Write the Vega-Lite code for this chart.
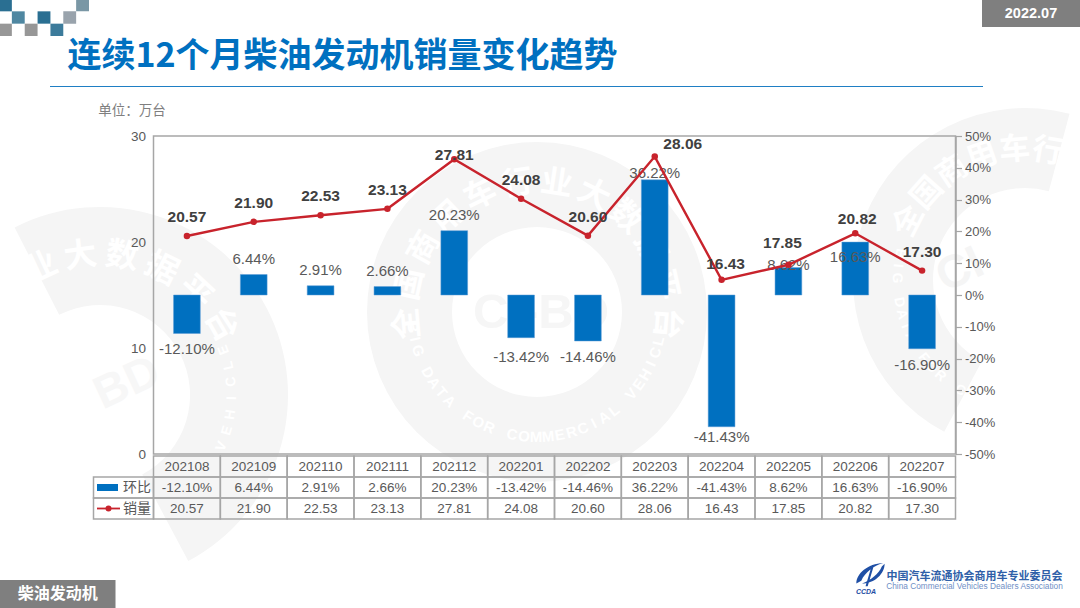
{
  "$schema": "https://vega.github.io/schema/vega-lite/v6.json",
  "description": "连续12个月柴油发动机销量变化趋势",
  "width": 802,
  "height": 318,
  "autosize": {"type": "none"},
  "padding": {"left": 153.5, "top": 136, "right": 124.5, "bottom": 154},
  "background": "white",
  "title": {
    "text": "连续12个月柴油发动机销量变化趋势",
    "anchor": "start",
    "frame": "group",
    "dx": -86,
    "offset": -75,
    "font": "Noto Sans CJK SC",
    "fontSize": 34,
    "fontWeight": "bold",
    "color": "#0070c0"
  },
  "config": {
    "font": "Liberation Sans",
    "view": {"stroke": null}
  },
  "datasets": {
    "monthly": [
      {"month": "202108", "change": -12.10, "sales": 20.57},
      {"month": "202109", "change": 6.44, "sales": 21.90},
      {"month": "202110", "change": 2.91, "sales": 22.53},
      {"month": "202111", "change": 2.66, "sales": 23.13},
      {"month": "202112", "change": 20.23, "sales": 27.81},
      {"month": "202201", "change": -13.42, "sales": 24.08},
      {"month": "202202", "change": -14.46, "sales": 20.60},
      {"month": "202203", "change": 36.22, "sales": 28.06},
      {"month": "202204", "change": -41.43, "sales": 16.43},
      {"month": "202205", "change": 8.62, "sales": 17.85},
      {"month": "202206", "change": 16.63, "sales": 20.82},
      {"month": "202207", "change": -16.90, "sales": 17.30}
    ],
    "cornerCells": [
      {"col": 0, "row": 0, "shade": "deep"},
      {"col": 6, "row": 0, "shade": "mist"},
      {"col": 1, "row": 1, "shade": "mid"},
      {"col": 3, "row": 1, "shade": "deep"},
      {"col": 5, "row": 1, "shade": "slate"},
      {"col": 0, "row": 2, "shade": "grey"},
      {"col": 2, "row": 2, "shade": "grey"},
      {"col": 4, "row": 2, "shade": "teal"}
    ]
  },
  "resolve": {
    "scale": {"x": "independent", "y": "independent", "color": "independent", "theta": "independent", "angle": "independent", "size": "independent"},
    "axis": {"y": "independent"}
  },
  "layer": [
    {
      "data": {"values": [{"ring": "center", "from": 0, "to": 360}]},
      "mark": {"type": "arc", "innerRadius": 85, "outerRadius": 170, "color": "#f5f5f5"},
      "encoding": {
        "x": {"field": "ring", "type": "ordinal", "axis": null, "scale": {"type": "point", "range": [383.5, 383.5]}},
        "y": {"field": "ring", "type": "ordinal", "axis": null, "scale": {"type": "point", "range": [176, 176]}},
        "theta": {"field": "from", "type": "quantitative", "stack": null, "scale": {"domain": [0, 360], "range": [0, 6.2832]}},
        "theta2": {"field": "to"}
      }
    },
    {
      "data": {"values": [{"ring": "left", "from": -27, "to": 152}]},
      "mark": {"type": "arc", "innerRadius": 90, "outerRadius": 188, "color": "#f5f5f5"},
      "encoding": {
        "x": {"field": "ring", "type": "ordinal", "axis": null, "scale": {"type": "point", "range": [-53.5, -53.5]}},
        "y": {"field": "ring", "type": "ordinal", "axis": null, "scale": {"type": "point", "range": [259, 259]}},
        "theta": {"field": "from", "type": "quantitative", "stack": null, "scale": {"domain": [0, 360], "range": [0, 6.2832]}},
        "theta2": {"field": "to"}
      }
    },
    {
      "data": {"values": [{"ring": "right", "from": 208, "to": 375}]},
      "mark": {"type": "arc", "innerRadius": 92, "outerRadius": 172, "color": "#f5f5f5"},
      "encoding": {
        "x": {"field": "ring", "type": "ordinal", "axis": null, "scale": {"type": "point", "range": [871.5, 871.5]}},
        "y": {"field": "ring", "type": "ordinal", "axis": null, "scale": {"type": "point", "range": [144, 144]}},
        "theta": {"field": "from", "type": "quantitative", "stack": null, "scale": {"domain": [0, 360], "range": [0, 6.2832]}},
        "theta2": {"field": "to"}
      }
    },
    {
      "data": {"values": [
        {"ring": "center", "pos": 0, "ch": "全"}, {"ring": "center", "pos": 1, "ch": "国"}, {"ring": "center", "pos": 2, "ch": "商"},
        {"ring": "center", "pos": 3, "ch": "用"}, {"ring": "center", "pos": 4, "ch": "车"}, {"ring": "center", "pos": 5, "ch": "行"},
        {"ring": "center", "pos": 6, "ch": "业"}, {"ring": "center", "pos": 7, "ch": "大"}, {"ring": "center", "pos": 8, "ch": "数"},
        {"ring": "center", "pos": 9, "ch": "据"}, {"ring": "center", "pos": 10, "ch": "平"}, {"ring": "center", "pos": 11, "ch": "台"}
      ]},
      "mark": {"type": "text", "font": "Noto Sans CJK SC", "fontWeight": "bold", "fontSize": 32, "color": "white", "baseline": "middle"},
      "encoding": {
        "x": {"field": "ring", "type": "ordinal", "axis": null, "scale": {"type": "point", "range": [383.5, 383.5]}},
        "y": {"field": "ring", "type": "ordinal", "axis": null, "scale": {"type": "point", "range": [176, 176]}},
        "radius": {"value": 130},
        "theta": {"field": "pos", "type": "quantitative", "scale": {"domain": [0, 11], "range": [-1.658, 1.658]}},
        "angle": {"field": "pos", "type": "quantitative", "scale": {"domain": [0, 11], "range": [-95, 95]}},
        "text": {"field": "ch"}
      }
    },
    {
      "data": {"values": [
        {"ring": "center", "pos": 0, "ch": "B"}, {"ring": "center", "pos": 1, "ch": "I"}, {"ring": "center", "pos": 2, "ch": "G"},
        {"ring": "center", "pos": 4, "ch": "D"}, {"ring": "center", "pos": 5, "ch": "A"}, {"ring": "center", "pos": 6, "ch": "T"}, {"ring": "center", "pos": 7, "ch": "A"},
        {"ring": "center", "pos": 9, "ch": "F"}, {"ring": "center", "pos": 10, "ch": "O"}, {"ring": "center", "pos": 11, "ch": "R"},
        {"ring": "center", "pos": 13, "ch": "C"}, {"ring": "center", "pos": 14, "ch": "O"}, {"ring": "center", "pos": 15, "ch": "M"}, {"ring": "center", "pos": 16, "ch": "M"}, {"ring": "center", "pos": 17, "ch": "E"},
        {"ring": "center", "pos": 18, "ch": "R"}, {"ring": "center", "pos": 19, "ch": "C"}, {"ring": "center", "pos": 20, "ch": "I"}, {"ring": "center", "pos": 21, "ch": "A"}, {"ring": "center", "pos": 22, "ch": "L"},
        {"ring": "center", "pos": 24, "ch": "V"}, {"ring": "center", "pos": 25, "ch": "E"}, {"ring": "center", "pos": 26, "ch": "H"}, {"ring": "center", "pos": 27, "ch": "I"}, {"ring": "center", "pos": 28, "ch": "C"}, {"ring": "center", "pos": 29, "ch": "L"}, {"ring": "center", "pos": 30, "ch": "E"}
      ]},
      "mark": {"type": "text", "fontWeight": "bold", "fontSize": 15, "color": "white", "baseline": "middle"},
      "encoding": {
        "x": {"field": "ring", "type": "ordinal", "axis": null, "scale": {"type": "point", "range": [383.5, 383.5]}},
        "y": {"field": "ring", "type": "ordinal", "axis": null, "scale": {"type": "point", "range": [176, 176]}},
        "radius": {"value": 125},
        "theta": {"field": "pos", "type": "quantitative", "scale": {"domain": [0, 30], "range": [4.59, 1.71]}},
        "angle": {"field": "pos", "type": "quantitative", "scale": {"domain": [0, 30], "range": [83, -82]}},
        "text": {"field": "ch"}
      }
    },
    {
      "data": {"values": [
        {"ring": "left", "pos": 0, "ch": "业"}, {"ring": "left", "pos": 1, "ch": "大"}, {"ring": "left", "pos": 2, "ch": "数"},
        {"ring": "left", "pos": 3, "ch": "据"}, {"ring": "left", "pos": 4, "ch": "平"}, {"ring": "left", "pos": 5, "ch": "台"}
      ]},
      "mark": {"type": "text", "font": "Noto Sans CJK SC", "fontWeight": "bold", "fontSize": 33, "color": "white", "baseline": "middle"},
      "encoding": {
        "x": {"field": "ring", "type": "ordinal", "axis": null, "scale": {"type": "point", "range": [-53.5, -53.5]}},
        "y": {"field": "ring", "type": "ordinal", "axis": null, "scale": {"type": "point", "range": [259, 259]}},
        "radius": {"value": 140},
        "theta": {"field": "pos", "type": "quantitative", "scale": {"domain": [0, 5], "range": [-0.436, 1.047]}},
        "angle": {"field": "pos", "type": "quantitative", "scale": {"domain": [0, 5], "range": [-25, 60]}},
        "text": {"field": "ch"}
      }
    },
    {
      "data": {"values": [
        {"ring": "left", "pos": 0, "ch": "V"}, {"ring": "left", "pos": 1, "ch": "E"}, {"ring": "left", "pos": 2, "ch": "H"}, {"ring": "left", "pos": 3, "ch": "I"},
        {"ring": "left", "pos": 4, "ch": "C"}, {"ring": "left", "pos": 5, "ch": "L"}, {"ring": "left", "pos": 6, "ch": "E"}
      ]},
      "mark": {"type": "text", "fontWeight": "bold", "fontSize": 14, "color": "white", "baseline": "middle"},
      "encoding": {
        "x": {"field": "ring", "type": "ordinal", "axis": null, "scale": {"type": "point", "range": [-53.5, -53.5]}},
        "y": {"field": "ring", "type": "ordinal", "axis": null, "scale": {"type": "point", "range": [259, 259]}},
        "radius": {"value": 132},
        "theta": {"field": "pos", "type": "quantitative", "scale": {"domain": [0, 6], "range": [1.97, 1.22]}},
        "angle": {"field": "pos", "type": "quantitative", "scale": {"domain": [0, 6], "range": [-67, -110]}},
        "text": {"field": "ch"}
      }
    },
    {
      "data": {"values": [
        {"ring": "right", "pos": 0, "ch": "全"}, {"ring": "right", "pos": 1, "ch": "国"}, {"ring": "right", "pos": 2, "ch": "商"},
        {"ring": "right", "pos": 3, "ch": "用"}, {"ring": "right", "pos": 4, "ch": "车"}, {"ring": "right", "pos": 5, "ch": "行"}
      ]},
      "mark": {"type": "text", "font": "Noto Sans CJK SC", "fontWeight": "bold", "fontSize": 31, "color": "white", "baseline": "middle"},
      "encoding": {
        "x": {"field": "ring", "type": "ordinal", "axis": null, "scale": {"type": "point", "range": [871.5, 871.5]}},
        "y": {"field": "ring", "type": "ordinal", "axis": null, "scale": {"type": "point", "range": [144, 144]}},
        "radius": {"value": 130},
        "theta": {"field": "pos", "type": "quantitative", "scale": {"domain": [0, 5], "range": [-1.10, 0.175]}},
        "angle": {"field": "pos", "type": "quantitative", "scale": {"domain": [0, 5], "range": [-63, 10]}},
        "text": {"field": "ch"}
      }
    },
    {
      "data": {"values": [
        {"ring": "right", "pos": 0, "ch": "B"}, {"ring": "right", "pos": 1, "ch": "I"}, {"ring": "right", "pos": 2, "ch": "G"},
        {"ring": "right", "pos": 4, "ch": "D"}, {"ring": "right", "pos": 5, "ch": "A"}, {"ring": "right", "pos": 6, "ch": "T"}, {"ring": "right", "pos": 7, "ch": "A"},
        {"ring": "right", "pos": 9, "ch": "F"}, {"ring": "right", "pos": 10, "ch": "O"}, {"ring": "right", "pos": 11, "ch": "R"},
        {"ring": "right", "pos": 13, "ch": "C"}
      ]},
      "mark": {"type": "text", "fontWeight": "bold", "fontSize": 14, "color": "white", "baseline": "middle"},
      "encoding": {
        "x": {"field": "ring", "type": "ordinal", "axis": null, "scale": {"type": "point", "range": [871.5, 871.5]}},
        "y": {"field": "ring", "type": "ordinal", "axis": null, "scale": {"type": "point", "range": [144, 144]}},
        "radius": {"value": 128},
        "theta": {"field": "pos", "type": "quantitative", "scale": {"domain": [0, 13], "range": [4.92, 3.674]}},
        "angle": {"field": "pos", "type": "quantitative", "scale": {"domain": [0, 13], "range": [102, 30.5]}},
        "text": {"field": "ch"}
      }
    },
    {
      "data": {"values": [{"word": "CI-BD"}]},
      "mark": {"type": "text", "fontWeight": "bold", "fontSize": 49, "color": "#f6f6f6", "baseline": "middle"},
      "encoding": {
        "x": {"field": "word", "type": "ordinal", "axis": null, "scale": {"type": "point", "range": [387.5, 387.5]}},
        "y": {"field": "word", "type": "ordinal", "axis": null, "scale": {"type": "point", "range": [177, 177]}},
        "text": {"field": "word"}
      }
    },
    {
      "data": {"values": [{"word": "BD"}]},
      "mark": {"type": "text", "fontWeight": "bold", "fontSize": 46, "color": "#f7f7f7", "baseline": "middle", "angle": 335},
      "encoding": {
        "x": {"field": "word", "type": "ordinal", "axis": null, "scale": {"type": "point", "range": [-26.5, -26.5]}},
        "y": {"field": "word", "type": "ordinal", "axis": null, "scale": {"type": "point", "range": [247, 247]}},
        "text": {"field": "word"}
      }
    },
    {
      "data": {"values": [{"word": "CI"}]},
      "mark": {"type": "text", "fontWeight": "bold", "fontSize": 46, "color": "#f5f5f5", "baseline": "middle", "angle": 335},
      "encoding": {
        "x": {"field": "word", "type": "ordinal", "axis": null, "scale": {"type": "point", "range": [806.5, 806.5]}},
        "y": {"field": "word", "type": "ordinal", "axis": null, "scale": {"type": "point", "range": [134, 134]}},
        "text": {"field": "word"}
      }
    },
    {
      "data": {"name": "cornerCells"},
      "mark": {"type": "rect"},
      "encoding": {
        "x": {"field": "col", "type": "ordinal", "axis": null, "scale": {"type": "band", "domain": [0, 1, 2, 3, 4, 5, 6], "range": [-154.5, -64.5], "padding": 0}},
        "y": {"field": "row", "type": "ordinal", "axis": null, "scale": {"type": "band", "domain": [0, 1, 2], "range": [-137, -100], "padding": 0}},
        "color": {
          "field": "shade",
          "type": "nominal",
          "legend": null,
          "scale": {"domain": ["deep", "mid", "teal", "slate", "mist", "grey"], "range": ["#2a6f92", "#4f87a1", "#3c7b9b", "#99a3ac", "#7a97a5", "#979797"]}
        }
      }
    },
    {
      "data": {"values": [{"line": "header", "from": 0, "to": 1}]},
      "mark": {"type": "rule", "color": "#1f7fc4", "strokeWidth": 1},
      "encoding": {
        "x": {"field": "from", "type": "quantitative", "axis": null, "scale": {"domain": [0, 1], "range": [-103.5, 829.5]}},
        "x2": {"field": "to"},
        "y": {"field": "line", "type": "ordinal", "axis": null, "scale": {"type": "point", "range": [-49.5, -49.5]}}
      }
    },
    {
      "data": {"values": [{"tag": "2022.07"}]},
      "encoding": {
        "x": {"field": "tag", "type": "ordinal", "axis": null, "scale": {"type": "band", "range": [828.5, 926.5], "padding": 0}},
        "y": {"field": "tag", "type": "ordinal", "axis": null, "scale": {"type": "band", "range": [-136, -109], "padding": 0}}
      },
      "layer": [
        {"mark": {"type": "rect", "color": "#7f7f7f"}},
        {
          "mark": {"type": "text", "color": "white", "fontWeight": "bold", "fontSize": 14.5, "baseline": "middle"},
          "encoding": {"text": {"field": "tag"}}
        }
      ]
    },
    {
      "data": {"values": [{"tag": "柴油发动机"}]},
      "encoding": {
        "x": {"field": "tag", "type": "ordinal", "axis": null, "scale": {"type": "band", "range": [-153.5, -38], "padding": 0}},
        "y": {"field": "tag", "type": "ordinal", "axis": null, "scale": {"type": "band", "range": [444, 472], "padding": 0}}
      },
      "layer": [
        {"mark": {"type": "rect", "color": "#7f7f7f"}},
        {
          "mark": {"type": "text", "color": "white", "font": "Noto Sans CJK SC", "fontWeight": "bold", "fontSize": 16, "baseline": "middle"},
          "encoding": {"text": {"field": "tag"}}
        }
      ]
    },
    {
      "data": {"values": [{"org": "logo", "line": "cn", "name": "中国汽车流通协会商用车专业委员会"}]},
      "mark": {"type": "text", "font": "Noto Sans CJK SC", "fontWeight": "bold", "fontSize": 11, "color": "#2f5fa8", "baseline": "middle"},
      "encoding": {
        "x": {"field": "org", "type": "ordinal", "axis": null, "scale": {"type": "band", "range": [732.5, 909.5], "padding": 0}},
        "y": {"field": "line", "type": "ordinal", "axis": null, "scale": {"type": "band", "range": [435, 447], "padding": 0}},
        "text": {"field": "name"}
      }
    },
    {
      "data": {"values": [{"org": "logo", "line": "en", "name": "China Commercial Vehicles Dealers Association"}]},
      "mark": {"type": "text", "fontSize": 8.3, "color": "#6f8fc6", "baseline": "middle"},
      "encoding": {
        "x": {"field": "org", "type": "ordinal", "axis": null, "scale": {"type": "band", "range": [732.5, 909.5], "padding": 0}},
        "y": {"field": "line", "type": "ordinal", "axis": null, "scale": {"type": "band", "range": [446, 456], "padding": 0}},
        "text": {"field": "name"}
      }
    },
    {
      "data": {"values": [{"org": "logo"}]},
      "mark": {
        "type": "point",
        "filled": true,
        "color": "#1f4fa5",
        "opacity": 1,
        "size": 800,
        "shape": "M-1,0.6C-1,-0.1,-0.2,-0.8,0.9,-0.85C0.3,-0.7,-0.4,-0.2,-0.65,0.4ZM1,-0.8C1,-0.1,0.3,0.6,-0.6,0.6C0,0.4,0.6,-0.1,0.8,-0.6ZM0.1,-0.7L0.25,-0.7L-0.2,0.8L-0.35,0.8Z"
      },
      "encoding": {
        "x": {"field": "org", "type": "ordinal", "axis": null, "scale": {"type": "point", "range": [717, 717]}},
        "y": {"field": "org", "type": "ordinal", "axis": null, "scale": {"type": "point", "range": [439, 439]}}
      }
    },
    {
      "data": {"values": [{"org": "CCDA"}]},
      "mark": {"type": "text", "fontSize": 7, "fontWeight": "bold", "fontStyle": "italic", "color": "#1f4fa5", "baseline": "middle"},
      "encoding": {
        "x": {"field": "org", "type": "ordinal", "axis": null, "scale": {"type": "point", "range": [712.5, 712.5]}},
        "y": {"field": "org", "type": "ordinal", "axis": null, "scale": {"type": "point", "range": [456, 456]}},
        "text": {"field": "org"}
      }
    },
    {
      "data": {"values": [{"frame": "plot"}]},
      "mark": {"type": "rect", "filled": false, "stroke": "#a6a6a6", "strokeWidth": 1.5},
      "encoding": {
        "x": {"field": "frame", "type": "ordinal", "axis": null, "scale": {"type": "band", "range": [0, 802], "padding": 0}},
        "y": {"field": "frame", "type": "ordinal", "axis": null, "scale": {"type": "band", "range": [0, 318], "padding": 0}}
      }
    },
    {
      "data": {"name": "monthly"},
      "transform": [{"calculate": "replace(format(datum.change, '.2f'), '−', '-') + '%'", "as": "label"}],
      "encoding": {
        "x": {"field": "month", "type": "ordinal", "axis": null, "scale": {"type": "band", "range": [0, 802], "paddingInner": 0.6, "paddingOuter": 0.3}},
        "y": {
          "field": "change",
          "type": "quantitative",
          "title": null,
          "scale": {"domain": [-50, 50]},
          "axis": {
            "orient": "right",
            "zindex": 1,
            "values": [-50, -40, -30, -20, -10, 0, 10, 20, 30, 40, 50],
            "labelExpr": "datum.value + '%'",
            "labelOverlap": false,
            "labelFlush": false,
            "grid": false,
            "domainColor": "#a6a6a6",
            "domainWidth": 1.5,
            "tickColor": "#a6a6a6",
            "tickWidth": 1.2,
            "tickSize": 6,
            "labelPadding": 3,
            "labelColor": "#595959",
            "labelFontSize": 13,
            "labelFont": "Liberation Sans"
          }
        }
      },
      "layer": [
        {"mark": {"type": "bar", "color": "#0070c0", "stroke": "#5b9bd5", "strokeWidth": 0.5}},
        {
          "transform": [{"filter": "indexof(['202109','202110','202111','202112'], datum.month) >= 0"}],
          "mark": {"type": "text", "fontSize": 15, "color": "#595959", "baseline": "middle", "dy": -16},
          "encoding": {"text": {"field": "label"}}
        },
        {
          "transform": [{"filter": "indexof(['202108','202202','202207'], datum.month) >= 0"}],
          "mark": {"type": "text", "fontSize": 15, "color": "#595959", "baseline": "middle", "dy": 16},
          "encoding": {"text": {"field": "label"}}
        },
        {
          "transform": [{"filter": "datum.month == '202201'"}],
          "mark": {"type": "text", "fontSize": 15, "color": "#595959", "baseline": "middle", "dy": 19},
          "encoding": {"text": {"field": "label"}}
        },
        {
          "transform": [{"filter": "datum.month == '202204'"}],
          "mark": {"type": "text", "fontSize": 15, "color": "#595959", "baseline": "middle", "dy": 10},
          "encoding": {"text": {"field": "label"}}
        },
        {
          "transform": [{"filter": "datum.month == '202203'"}],
          "mark": {"type": "text", "fontSize": 15, "color": "#595959", "baseline": "middle", "dy": -7},
          "encoding": {"text": {"field": "label"}}
        },
        {
          "transform": [{"filter": "datum.month == '202205'"}],
          "mark": {"type": "text", "fontSize": 15, "color": "#595959", "baseline": "middle", "dy": -3},
          "encoding": {"text": {"field": "label"}}
        },
        {
          "transform": [{"filter": "datum.month == '202206'"}],
          "mark": {"type": "text", "fontSize": 15, "color": "#595959", "baseline": "middle", "dy": 15},
          "encoding": {"text": {"field": "label"}}
        }
      ]
    },
    {
      "data": {"name": "monthly"},
      "encoding": {
        "x": {"field": "month", "type": "ordinal", "axis": null, "scale": {"type": "band", "range": [0, 802], "padding": 0}},
        "y": {
          "field": "sales",
          "type": "quantitative",
          "title": "单位：万台",
          "scale": {"domain": [0, 30]},
          "axis": {
            "orient": "left",
            "zindex": 1,
            "values": [0, 10, 20, 30],
            "grid": false,
            "ticks": false,
            "domain": false,
            "labelPadding": 8,
            "labelColor": "#595959",
            "labelFontSize": 13.5,
            "labelFont": "Liberation Sans",
            "titleAngle": 0,
            "titleAlign": "center",
            "titleBaseline": "middle",
            "titleX": -22,
            "titleY": -26,
            "titleFont": "Noto Sans CJK SC",
            "titleFontSize": 13.5,
            "titleFontWeight": "normal",
            "titleColor": "#7f7f7f"
          }
        }
      },
      "layer": [
        {"mark": {"type": "line", "color": "#c8232c", "strokeWidth": 2.4}},
        {"mark": {"type": "point", "filled": true, "color": "#c8232c", "opacity": 1, "size": 42}},
        {
          "transform": [{"filter": "indexof(['202112','202203','202204','202205','202206'], datum.month) < 0"}],
          "mark": {"type": "text", "fontSize": 15.5, "fontWeight": "bold", "color": "#404040", "baseline": "middle", "dy": -19},
          "encoding": {"text": {"field": "sales", "format": ".2f"}}
        },
        {
          "transform": [{"filter": "datum.month == '202112'"}],
          "mark": {"type": "text", "fontSize": 15.5, "fontWeight": "bold", "color": "#404040", "baseline": "middle", "dy": -4},
          "encoding": {"text": {"field": "sales", "format": ".2f"}}
        },
        {
          "transform": [{"filter": "datum.month == '202203'"}],
          "mark": {"type": "text", "fontSize": 15.5, "fontWeight": "bold", "color": "#404040", "baseline": "middle", "dx": 28, "dy": -13},
          "encoding": {"text": {"field": "sales", "format": ".2f"}}
        },
        {
          "transform": [{"filter": "datum.month == '202204'"}],
          "mark": {"type": "text", "fontSize": 15.5, "fontWeight": "bold", "color": "#404040", "baseline": "middle", "dx": 4, "dy": -16},
          "encoding": {"text": {"field": "sales", "format": ".2f"}}
        },
        {
          "transform": [{"filter": "datum.month == '202205'"}],
          "mark": {"type": "text", "fontSize": 15.5, "fontWeight": "bold", "color": "#404040", "baseline": "middle", "dx": -6, "dy": -22},
          "encoding": {"text": {"field": "sales", "format": ".2f"}}
        },
        {
          "transform": [{"filter": "datum.month == '202206'"}],
          "mark": {"type": "text", "fontSize": 15.5, "fontWeight": "bold", "color": "#404040", "baseline": "middle", "dx": 2, "dy": -14},
          "encoding": {"text": {"field": "sales", "format": ".2f"}}
        }
      ]
    },
    {
      "data": {"name": "monthly"},
      "transform": [
        {"calculate": "replace(format(datum.change, '.2f'), '−', '-') + '%'", "as": "环比"},
        {"calculate": "format(datum.sales, '.2f')", "as": "销量"},
        {"calculate": "datum.month", "as": "月份"},
        {"fold": ["月份", "环比", "销量"], "as": ["row", "cell"]}
      ],
      "encoding": {
        "x": {"field": "month", "type": "ordinal", "axis": null, "scale": {"type": "band", "range": [0, 802], "padding": 0}},
        "y": {"field": "row", "type": "ordinal", "axis": null, "scale": {"type": "band", "domain": ["月份", "环比", "销量"], "range": [320, 383], "padding": 0}}
      },
      "layer": [
        {"mark": {"type": "rect", "filled": false, "stroke": "#a6a6a6", "strokeWidth": 1.5}},
        {
          "mark": {"type": "text", "fontSize": 13.5, "color": "#595959", "baseline": "middle"},
          "encoding": {"text": {"field": "cell"}}
        }
      ]
    },
    {
      "data": {"values": [{"key": "legend", "row": "环比"}, {"key": "legend", "row": "销量"}]},
      "encoding": {
        "x": {"field": "key", "type": "ordinal", "axis": null, "scale": {"type": "band", "range": [-60, 0], "padding": 0}},
        "y": {"field": "row", "type": "ordinal", "axis": null, "scale": {"type": "band", "domain": ["环比", "销量"], "range": [341, 383], "padding": 0}}
      },
      "layer": [
        {"mark": {"type": "rect", "filled": false, "stroke": "#a6a6a6", "strokeWidth": 1.5}},
        {
          "mark": {"type": "text", "font": "Noto Sans CJK SC", "fontSize": 14, "color": "#595959", "baseline": "middle", "dx": 13.5},
          "encoding": {"text": {"field": "row"}}
        },
        {
          "transform": [{"filter": "datum.row == '环比'"}],
          "mark": {"type": "rect", "color": "#0070c0", "width": 21, "height": 7, "xOffset": -16}
        },
        {
          "transform": [{"filter": "datum.row == '销量'"}],
          "mark": {"type": "rect", "color": "#c8232c", "width": 23, "height": 1.8, "xOffset": -15}
        },
        {
          "transform": [{"filter": "datum.row == '销量'"}],
          "mark": {"type": "point", "filled": true, "color": "#c8232c", "opacity": 1, "size": 36, "xOffset": -15}
        }
      ]
    }
  ]
}
